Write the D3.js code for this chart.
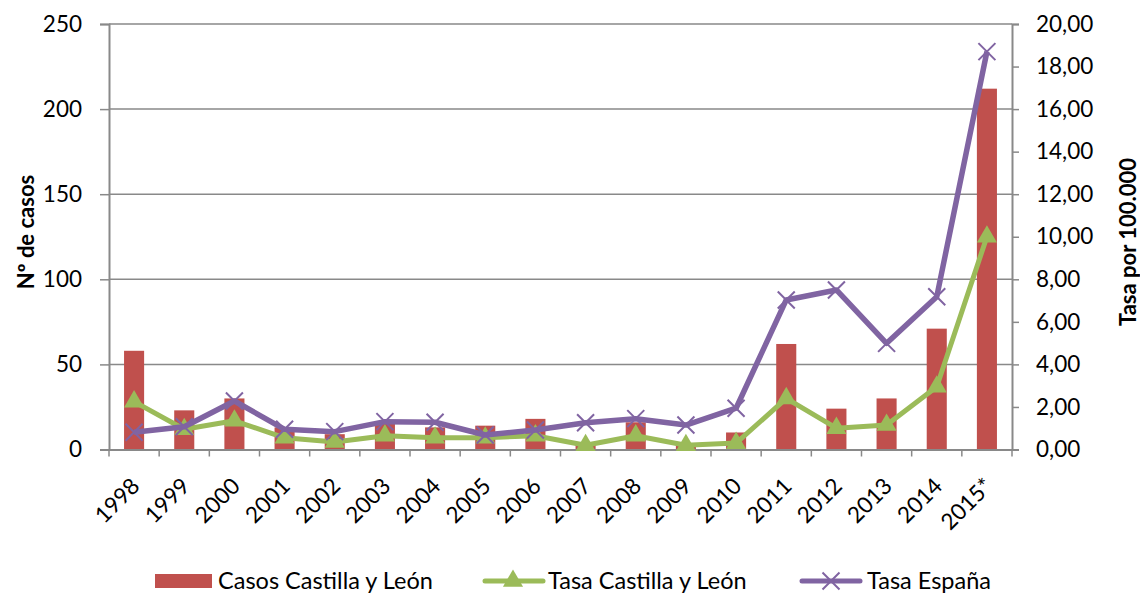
<!DOCTYPE html>
<html>
<head>
<meta charset="utf-8">
<script src="https://cdn.jsdelivr.net/npm/d3@7"></script>
<style>
  html, body { margin: 0; padding: 0; background: #fff; }
  svg { display: block; font-family: Lato, "Open Sans", sans-serif; }
</style>
</head>
<body>
<svg id="chart" width="1140" height="594"></svg>
<script>
const years = ["1998","1999","2000","2001","2002","2003","2004","2005","2006","2007","2008","2009","2010","2011","2012","2013","2014","2015*"];
const casosCyL = [58,23,30,13,9,15,13,14,18,3,16,3,10,62,24,30,71,212];
const tasaCyL = [2.25,0.95,1.35,0.55,0.35,0.65,0.55,0.55,0.65,0.2,0.65,0.2,0.3,2.4,1.0,1.15,2.95,10.0];
const tasaEsp = [0.81,1.07,2.28,0.95,0.84,1.31,1.28,0.68,0.92,1.26,1.45,1.15,1.94,7.03,7.5,4.99,7.18,18.7];
const leftTicks = [0,50,100,150,200,250];
const rightTicks = [0,2,4,6,8,10,12,14,16,18,20];
const seriesNames = ["Casos Castilla y León","Tasa Castilla y León","Tasa España"];

const C_BAR = "#C0504D", C_GREEN = "#9BBB59", C_PURPLE = "#8064A2", C_AXIS = "#898989";
const L = 109, R = 1012, T = 24, B = 449.5;

const svg = d3.select("#chart");
const x = d3.scaleBand().domain(years).range([L, R]).paddingInner(0.6).paddingOuter(0.3);
const xc = d => x(d) + x.bandwidth() / 2;
const yL = d3.scaleLinear().domain([0, 250]).range([B, T]);
const yR = d3.scaleLinear().domain([0, 20]).range([B, T]);

// gridlines
svg.append("g").selectAll("line").data(leftTicks.slice(1)).join("line")
  .attr("x1", L).attr("x2", R).attr("y1", d => yL(d)).attr("y2", d => yL(d))
  .attr("stroke", C_AXIS).attr("stroke-width", 1.5);

// bars
svg.append("g").selectAll("rect").data(years).join("rect")
  .attr("x", d => x(d)).attr("width", x.bandwidth())
  .attr("y", (d, i) => yL(casosCyL[i])).attr("height", (d, i) => B - yL(casosCyL[i]))
  .attr("fill", C_BAR);

// left axis
const axL = svg.append("g").attr("transform", `translate(${L},0)`)
  .call(d3.axisLeft(yL).tickValues(leftTicks).tickSize(9).tickPadding(18).tickFormat(d3.format("d")));
axL.select(".domain").attr("stroke", C_AXIS).attr("stroke-width", 2);
axL.selectAll(".tick line").attr("stroke", C_AXIS).attr("stroke-width", 1.5);
axL.selectAll("text").attr("font-size", 22.5).attr("fill", "#000").attr("font-family", "Lato");

// right axis
const axR = svg.append("g").attr("transform", `translate(${R},0)`)
  .call(d3.axisRight(yR).tickValues(rightTicks).tickSize(7).tickPadding(17)
    .tickFormat(d => d3.format(".2f")(d).replace(".", ",")));
axR.select(".domain").attr("stroke", C_AXIS).attr("stroke-width", 2);
axR.selectAll(".tick line").attr("stroke", C_AXIS).attr("stroke-width", 1.5);
axR.selectAll("text").attr("font-size", 22.5).attr("fill", "#000").attr("font-family", "Lato");

// bottom axis
const step = x.step();
const xb = svg.append("g").attr("transform", `translate(0,${B})`)
  .call(d3.axisBottom(x).tickSize(0).tickFormat(""));
xb.select(".domain").attr("stroke", C_AXIS).attr("stroke-width", 2);
xb.selectAll(".tick").remove();
svg.append("g").selectAll("line").data(d3.range(years.length + 1)).join("line")
  .attr("x1", i => L + i * step).attr("x2", i => L + i * step)
  .attr("y1", B).attr("y2", B + 7).attr("stroke", C_AXIS).attr("stroke-width", 1.5);
svg.append("g").selectAll("text").data(years).join("text")
  .attr("transform", d => `translate(${xc(d) + 7},${B + 38}) rotate(-45)`)
  .attr("text-anchor", "end").attr("font-size", 22.5).attr("fill", "#000")
  .text(d => d);

// lines
const lineGen = (arr) => d3.line().x((d, i) => xc(years[i])).y(d => yR(d))(arr);
const triangle = d3.symbol().type(d3.symbolTriangle).size(175);

svg.append("path").attr("d", lineGen(tasaCyL)).attr("fill", "none")
  .attr("stroke", C_GREEN).attr("stroke-width", 5).attr("stroke-linejoin", "round");
svg.append("g").selectAll("path").data(tasaCyL).join("path")
  .attr("transform", (d, i) => `translate(${xc(years[i])},${yR(d)})`)
  .attr("d", triangle).attr("fill", C_GREEN);

svg.append("path").attr("d", lineGen(tasaEsp)).attr("fill", "none")
  .attr("stroke", C_PURPLE).attr("stroke-width", 5.5).attr("stroke-linejoin", "round");
const xMark = "M-8.5,-8.5L8.5,8.5M-8.5,8.5L8.5,-8.5";
svg.append("g").selectAll("path").data(tasaEsp).join("path")
  .attr("transform", (d, i) => `translate(${xc(years[i])},${yR(d)})`)
  .attr("d", xMark).attr("stroke", C_PURPLE).attr("stroke-width", 2).attr("fill", "none");

// axis titles
svg.append("text").attr("transform", "translate(34,232) rotate(-90)")
  .attr("text-anchor", "middle").attr("font-size", 22).attr("font-weight", "bold")
  .text("Nº de casos");
svg.append("text").attr("transform", "translate(1136,242) rotate(-90)")
  .attr("text-anchor", "middle").attr("font-size", 22).attr("font-weight", "bold")
  .text("Tasa por 100.000");

// legend
const lg = svg.append("g").attr("font-size", 23.5);
lg.append("rect").attr("x", 155).attr("y", 574).attr("width", 57).attr("height", 14).attr("fill", C_BAR);
lg.append("text").attr("x", 218).attr("y", 589).text(seriesNames[0]);
lg.append("line").attr("x1", 485).attr("x2", 543).attr("y1", 581).attr("y2", 581)
  .attr("stroke", C_GREEN).attr("stroke-width", 5).attr("stroke-linecap", "round");
lg.append("path").attr("transform", "translate(513,581)").attr("d", triangle).attr("fill", C_GREEN);
lg.append("text").attr("x", 548).attr("y", 589).text(seriesNames[1]);
lg.append("line").attr("x1", 802).attr("x2", 860).attr("y1", 581).attr("y2", 581)
  .attr("stroke", C_PURPLE).attr("stroke-width", 5).attr("stroke-linecap", "round");
lg.append("path").attr("transform", "translate(831,581)").attr("d", xMark)
  .attr("stroke", C_PURPLE).attr("stroke-width", 2).attr("fill", "none");
lg.append("text").attr("x", 867).attr("y", 589).text(seriesNames[2]);
</script>
</body>
</html>
